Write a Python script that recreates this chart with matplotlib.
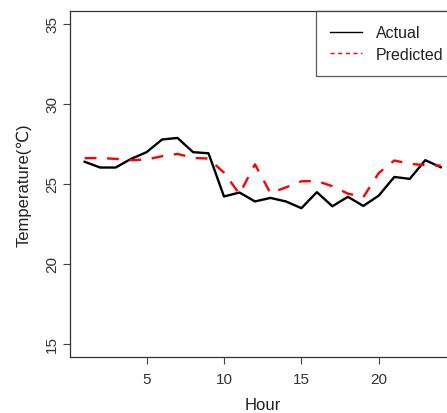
import matplotlib
matplotlib.use('Agg')
from matplotlib import pyplot as plt
from matplotlib.lines import Line2D

plt.rcParams['font.family'] = ['Liberation Sans', 'DejaVu Sans']

hours = list(range(1, 25))
actual = [26.38, 26.02, 26.02, 26.56, 26.98, 27.77, 27.87, 26.98, 26.91, 24.21, 24.46, 23.9,
          24.12, 23.9, 23.48, 24.48, 23.6, 24.19, 23.62, 24.27, 25.43, 25.31, 26.48, 26.04]
predicted = [26.6, 26.62, 26.56, 26.48, 26.52, 26.73, 26.87, 26.62, 26.58, 25.7, 24.37, 26.22,
             24.42, 24.78, 25.16, 25.18, 24.85, 24.39, 24.17, 25.68, 26.46, 26.25, 26.17, 26.14]
xticks = [5, 10, 15, 20]
yticks = [15, 20, 25, 30, 35]

fig = plt.figure(figsize=(4.47, 4.14), dpi=100)
ax = fig.add_axes([70.4 / 447, 56.3 / 414, 384.6 / 447, 345.7 / 414])

ax.plot(hours, actual, color='black', lw=1.7)
ax.plot(hours, predicted, color='red', lw=1.7, dashes=(5, 4.5))

ax.set_xlim(0.08, 24.92)
ax.set_ylim(14.2, 35.8)
ax.set_xticks(xticks)
ax.set_yticks(yticks)
ax.set_yticklabels([str(v) for v in yticks], rotation=90, va='center')
ax.tick_params(direction='out', length=5, width=0.8, colors='#444444', labelsize=11,
               labelcolor='#333333')
ax.tick_params(axis='y', pad=3)
ax.tick_params(axis='x', pad=6)
for s in ax.spines.values():
    s.set_color('#333333')
    s.set_linewidth(0.9)

ax.set_xlabel('Hour', fontsize=12, color='#222222', labelpad=8)
ax.set_ylabel('Temperature(\u2103)', fontsize=12, color='#222222', labelpad=10)

handles = [Line2D([], [], color='black', lw=1),
           Line2D([], [], color='red', lw=1, dashes=(3, 2.5))]
leg = ax.legend(handles, ['Actual', 'Predicted'], loc='upper left',
                bbox_to_anchor=(316 / 447, 1 - 12 / 414), bbox_transform=fig.transFigure,
                fancybox=False, frameon=True, edgecolor='#333333', fontsize=11.5,
                handlelength=1.95, handletextpad=0.9, borderpad=0.9, labelspacing=0.4,
                borderaxespad=0)
leg.get_frame().set_linewidth(0.9)
for t in leg.get_texts():
    t.set_color('#222222')

fig.savefig('out.png', dpi=100)
